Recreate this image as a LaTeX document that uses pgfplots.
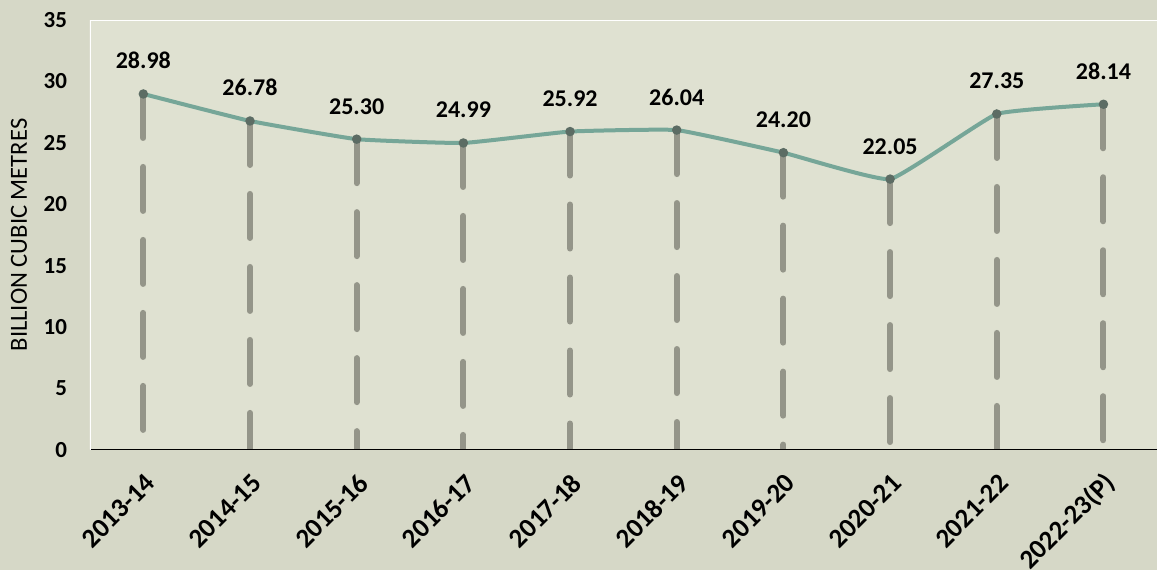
\documentclass[border=0pt]{standalone}
\usepackage{pgfplots}
\pgfplotsset{compat=1.18}
\usepackage{fontspec}
\setmainfont{Carlito}
\definecolor{outerbg}{RGB}{214,216,199}
\definecolor{plotbg}{RGB}{223,225,209}
\definecolor{lineteal}{RGB}{118,166,152}
\definecolor{dropgray}{RGB}{148,149,137}
\definecolor{dotdark}{RGB}{92,108,100}
\definecolor{baseline}{RGB}{232,232,226}

\begin{document}
\begin{tikzpicture}
\fill[outerbg] (-45pt,-60pt) rectangle (533.5pt,225pt);
\begin{axis}[
    scale only axis,
    width=533.5pt, height=215pt,
    at={(0,0)}, anchor=south west,
    xmin=-0.5, xmax=9.5, ymin=0, ymax=35,
    axis background/.style={fill=plotbg},
    axis line style={draw=none},
    xtick={0,...,9},
    xticklabels={2013-14,2014-15,2015-16,2016-17,2017-18,2018-19,2019-20,2020-21,2021-22,2022-23(P)},
    ytick={0,5,...,35},
    major tick length=0pt,
    yticklabel style={font=\fontsize{11.5}{13}\selectfont\bfseries, anchor=east, xshift=-8pt,
        /pgf/number format/assume math mode=true},
    xticklabel style={font=\fontsize{13.5}{15}\selectfont\bfseries,
        xshift=6pt, yshift=-12pt, rotate=45, anchor=east},
    ylabel={BILLION CUBIC METRES},
    ylabel style={font=\fontsize{12.3}{14}\selectfont,
        at={([xshift=-35.5pt]axis description cs:0,0.5)}, anchor=center},
]
% drop lines, each starting at the point so the dash pattern begins at the top
\addplot[dropgray, line width=3pt, line cap=round, dash pattern=on 22pt off 14.5pt,
    unbounded coords=jump, forget plot] coordinates {
    (0,28.98) (0,0) (0,nan)
    (1,26.78) (1,0) (1,nan)
    (2,25.30) (2,0) (2,nan)
    (3,24.99) (3,0) (3,nan)
    (4,25.92) (4,0) (4,nan)
    (5,26.04) (5,0) (5,nan)
    (6,24.20) (6,0) (6,nan)
    (7,22.05) (7,0) (7,nan)
    (8,27.35) (8,0) (8,nan)
    (9,28.14) (9,0)
};
\addplot[lineteal, line width=2pt, smooth, tension=0.2,
    mark=*, mark size=1.3pt, mark options={fill=dotdark, draw=dotdark},
    nodes near coords,
    nodes near coords style={font=\fontsize{12}{14}\selectfont\bfseries, text=black,
        anchor=base, yshift=12.5pt,
        /pgf/number format/.cd, fixed, fixed zerofill, precision=2, assume math mode=true},
] coordinates {
    (0,28.98) (1,26.78) (2,25.30) (3,24.99) (4,25.92)
    (5,26.04) (6,24.20) (7,22.05) (8,27.35) (9,28.14)
};
\draw[baseline, line width=1pt] (rel axis cs:0,0) -- (rel axis cs:1,0);
\draw[white, line width=1.2pt] (rel axis cs:0,0) -- (rel axis cs:0,1) -- (rel axis cs:1,1);
\end{axis}
\end{tikzpicture}
\end{document}
